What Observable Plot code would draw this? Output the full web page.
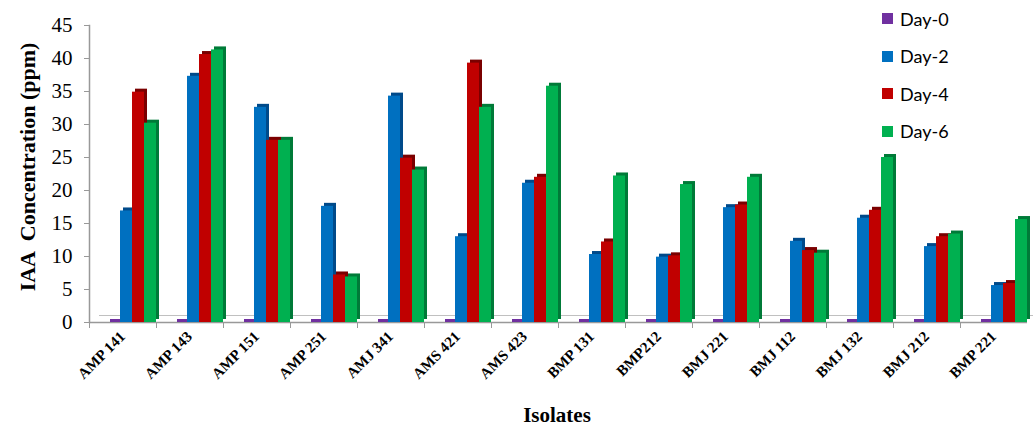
<!DOCTYPE html>
<html><head><meta charset="utf-8">
<script src="https://cdn.jsdelivr.net/npm/d3@7"></script>
<script src="https://cdn.jsdelivr.net/npm/@observablehq/plot@0.6"></script>
<style>
body{margin:0;background:#fff;}
#wrap{position:relative;width:1033px;height:428px;overflow:hidden;background:#fff;}
#wrap svg{position:absolute;left:0;top:0;}
.xlab{position:absolute;left:457px;width:200px;text-align:center;top:403px;font:bold 21px 'Liberation Serif','Times New Roman',serif;color:#000;line-height:24px;}
.legend{position:absolute;left:882px;top:0px;font:18px Lato,'Open Sans',sans-serif;color:#000;}
.legend .row{display:flex;align-items:center;height:37.5px;}
.legend .sw{width:11px;height:11px;margin-right:7px;}
</style></head><body><div id="wrap"></div>
<script>
const isolates = ["AMP 141","AMP 143","AMP 151","AMP 251","AMJ 341","AMS 421","AMS 423","BMP 131","BMP212","BMJ 221","BMJ 112","BMJ 132","BMJ 212","BMP 221"];
const days = ["Day-0","Day-2","Day-4","Day-6"];
const day0 = [0,0,0,0,0,0,0,0,0,0,0,0,0,0];
const day2 = [16.9,37.3,32.6,17.6,34.3,13.0,21.1,10.3,9.9,17.4,12.3,15.8,11.5,5.6];
const day4 = [34.9,40.6,27.6,7.2,24.9,39.3,22.0,12.2,10.1,17.8,10.9,17.0,13.0,5.9];
const day6 = [30.2,41.3,27.6,6.9,23.1,32.6,35.8,22.2,20.9,22.0,10.5,25.0,13.4,15.6];
const yTicks = [0,5,10,15,20,25,30,35,40,45];
const colors = ["#7030a0","#0070c0","#c00000","#00b050"];
const sideColors = ["#4b1f70","#004a8a","#7a0000","#007a38"];
const seriesValues = [day0, day2, day4, day6];

const rows = isolates.flatMap((iso, i) => days.map((d, j) => ({isolate: iso, day: d, value: seriesValues[j][i]})));

const W = 1033, H = 428, mt = 25, mb = 106, ml = 83, mr = 1;
const innerH = H - mt - mb;

const depthMarks = days.slice(1).map((d, k) =>
  Plot.barY(rows.filter(r => r.day === d), {fx: "isolate", x: "day", y: "value", fill: sideColors[k + 1], dx: 3, dy: -3}));
const frontMarks = days.slice(1).map((d, k) =>
  Plot.barY(rows.filter(r => r.day === d), {fx: "isolate", x: "day", y: "value", fill: colors[k + 1]}));

const chart = Plot.plot({
  width: W, height: H, marginTop: mt, marginBottom: mb, marginLeft: ml, marginRight: mr,
  style: {fontFamily: "'Liberation Serif','Times New Roman',serif", background: "transparent", overflow: "visible", color: "#000"},
  fx: {domain: isolates, padding: 0, axis: null},
  x: {domain: days, paddingInner: 0, paddingOuter: 0.71, align: 1, axis: null},
  y: {domain: [0, 45]},
  marks: [
    Plot.ruleY([0], {stroke: "#c0c0c0", dx: 10, dy: -7}),
    Plot.frame({anchor: "left", stroke: "#999", insetTop: innerH, insetBottom: -5}),
    Plot.ruleY([0], {stroke: "#999", strokeWidth: 1.5}),
    Plot.tickY(rows.filter(r => r.day === "Day-0"), {fx: "isolate", x: "day", y: "value", stroke: colors[0], strokeWidth: 3, dx: 2, dy: -2}),
    ...depthMarks,
    ...frontMarks,
    Plot.frame({anchor: "left", stroke: "#999", strokeWidth: 1.5, facetAnchor: "left"}),
    Plot.axisY({ticks: yTicks, tickSize: 5, tickPadding: 12, fontSize: 21, stroke: "#999", fill: "#000", label: null}),
    Plot.text(["IAA  Concentration (ppm)"], {frameAnchor: "left", textAnchor: "middle", rotate: -90, dx: -62, dy: -7, fontSize: 22, fontWeight: "bold", fill: "#000", facetAnchor: "left"}),
    Plot.text(isolates, {fx: d => d, text: d => d, frameAnchor: "bottom", rotate: -45, textAnchor: "end", dx: 3, dy: 15, fontSize: 15, fontWeight: "bold", fill: "#000"})
  ]
});

const wrap = document.getElementById("wrap");
wrap.appendChild(chart);

const xl = document.createElement("div");
xl.className = "xlab"; xl.textContent = "Isolates";
wrap.appendChild(xl);

const lg = document.createElement("div");
lg.className = "legend";
days.forEach((d, i) => {
  const row = document.createElement("div"); row.className = "row";
  const sw = document.createElement("div"); sw.className = "sw"; sw.style.background = colors[i];
  const t = document.createElement("span"); t.textContent = d;
  row.appendChild(sw); row.appendChild(t); lg.appendChild(row);
});
wrap.appendChild(lg);
</script></body></html>
